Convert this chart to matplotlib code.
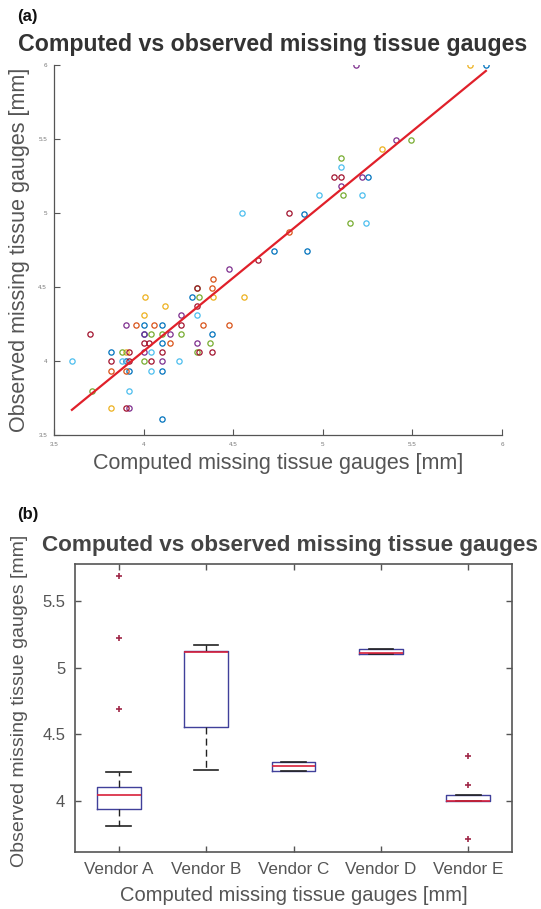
import matplotlib
matplotlib.use("Agg")
import matplotlib.pyplot as plt
import numpy as np

plt.rcParams['font.family'] = ['Liberation Sans', 'DejaVu Sans']

# ---------------- Panel (a) data: scatter by colour group ----------------
blue_x = [4.73, 4.91, 4.895, 5.25, 5.91, 4.27, 4.00, 4.10, 4.38, 4.10, 3.82, 3.90, 3.92, 4.10, 4.10, 4.00]
blue_y = [4.745, 4.745, 4.995, 5.245, 6.00, 4.43, 4.24, 4.24, 4.18, 4.12, 4.06, 4.00, 3.93, 3.93, 3.61, 4.18]
orange_x = [4.81, 4.39, 4.38, 3.96, 4.06, 4.33, 4.475, 4.15, 3.82, 3.90]
orange_y = [4.87, 4.555, 4.49, 4.24, 4.24, 4.24, 4.24, 4.12, 3.93, 3.93]
yellow_x = [5.82, 5.33, 4.39, 4.56, 4.01, 4.12, 4.00, 3.90, 3.82]
yellow_y = [6.00, 5.43, 4.43, 4.43, 4.43, 4.37, 4.31, 4.06, 3.68]
purple_x = [5.185, 5.41, 5.22, 5.10, 4.475, 4.21, 3.90, 4.00, 4.15, 4.30, 4.00, 4.10, 3.92]
purple_y = [6.00, 5.495, 5.245, 5.18, 4.62, 4.31, 4.24, 4.18, 4.18, 4.12, 4.06, 4.00, 3.68]
green_x = [5.49, 5.10, 5.11, 5.15, 4.30, 4.31, 4.04, 4.10, 4.21, 4.37, 3.88, 4.30, 4.00, 3.71]
green_y = [5.495, 5.37, 5.12, 4.93, 4.49, 4.43, 4.18, 4.18, 4.18, 4.12, 4.06, 4.06, 4.00, 3.80]
lightblue_x = [4.55, 5.10, 4.98, 5.22, 5.24, 4.30, 4.04, 3.88, 4.20, 4.04, 3.92, 3.60]
lightblue_y = [5.00, 5.31, 5.12, 5.12, 4.93, 4.31, 4.06, 4.00, 4.00, 3.93, 3.80, 4.00]
darkred_x = [4.81, 5.06, 5.10, 4.64, 4.30, 4.21, 3.70, 4.00, 4.03, 3.92, 4.10, 4.31, 4.38, 3.82, 3.92, 4.04, 3.90, 4.30]
darkred_y = [5.00, 5.245, 5.245, 4.68, 4.37, 4.24, 4.18, 4.12, 4.12, 4.06, 4.06, 4.06, 4.06, 4.00, 4.00, 4.00, 3.68, 4.49]

fit_x = [3.60, 5.91]
fit_y = [3.67, 5.96]

axis_ticks_a = [3.5, 4, 4.5, 5, 5.5, 6]
tick_labels_a = ['3.5', '4', '4.5', '5', '5.5', '6']

# ---------------- Panel (b) data: box statistics per vendor ----------------
vendors = ['Vendor A', 'Vendor B', 'Vendor C', 'Vendor D', 'Vendor E']
box_med = [4.045, 5.120, 4.260, 5.110, 4.000]
box_q1 = [3.938, 4.555, 4.228, 5.105, 4.000]
box_q3 = [4.107, 5.125, 4.295, 5.140, 4.045]
box_whislo = [3.815, 4.232, 4.228, 5.105, 4.000]
box_whishi = [4.215, 5.170, 4.295, 5.140, 4.045]
box_fliers = [[5.69, 5.22, 4.69], [], [], [], [4.34, 4.118, 3.715]]
yticks_b = [4, 4.5, 5, 5.5]
ytick_labels_b = ['4', '4.5', '5', '5.5']

# ---------------- Figure ----------------
W, H = 541, 909
fig = plt.figure(figsize=(W / 100, H / 100), dpi=100)

def fx(px):
    return px / W

def fy(py):
    return 1 - py / H

# ----- Panel (a) -----
ax1 = fig.add_axes([fx(54), fy(435), fx(502) - fx(54), fy(65) - fy(435)])
groups = [
    (blue_x, blue_y, (0.0, 0.447, 0.741)),
    (orange_x, orange_y, (0.85, 0.325, 0.098)),
    (yellow_x, yellow_y, (0.929, 0.694, 0.125)),
    (purple_x, purple_y, (0.494, 0.184, 0.556)),
    (green_x, green_y, (0.466, 0.674, 0.188)),
    (lightblue_x, lightblue_y, (0.301, 0.745, 0.933)),
    (darkred_x, darkred_y, (0.635, 0.078, 0.184)),
]
for gx, gy, c in groups:
    ax1.plot(gx, gy, 'o', ls='none', mfc='none', mec=c, ms=3.8, mew=0.9)
ax1.plot(fit_x, fit_y, '-', color='#e0202a', lw=1.6)
ax1.set_xlim(3.5, 6)
ax1.set_ylim(3.5, 6)
ax1.set_xticks(axis_ticks_a)
ax1.set_xticklabels(tick_labels_a)
ax1.set_yticks(axis_ticks_a)
ax1.set_yticklabels(tick_labels_a)
for s in ['top', 'right']:
    ax1.spines[s].set_visible(False)
for s in ['left', 'bottom']:
    ax1.spines[s].set_color('#555555')
    ax1.spines[s].set_linewidth(0.9)
ax1.tick_params(direction='in', length=4, width=0.8, color='#555555',
                labelsize=4.5, labelcolor='#777777', pad=5)
ax1.set_xlabel('Computed missing tissue gauges [mm]', fontsize=15.5, color='#555555', labelpad=4)
ax1.set_ylabel('Observed missing tissue gauges [mm]', fontsize=15.5, color='#555555', labelpad=6)
fig.text(fx(18), fy(45), 'Computed vs observed missing tissue gauges',
         fontsize=16.7, fontweight='bold', color='#333333', ha='left', va='center')
fig.text(fx(17), fy(17), '(a)', fontsize=12, fontweight='bold', color='#111111',
         ha='left', va='center')

# ----- Panel (b) -----
ax2 = fig.add_axes([fx(75), fy(852), fx(512) - fx(75), fy(564) - fy(852)])
stats = []
for i in range(len(vendors)):
    stats.append(dict(med=box_med[i], q1=box_q1[i], q3=box_q3[i],
                      whislo=box_whislo[i], whishi=box_whishi[i],
                      fliers=box_fliers[i], label=vendors[i]))
ax2.bxp(stats, positions=np.arange(1, len(vendors) + 1), widths=0.5,
        capwidths=0.28, showfliers=True,
        boxprops=dict(color='#40409a', lw=1.0),
        medianprops=dict(color='#d8203a', lw=1.2),
        whiskerprops=dict(color='#222222', lw=1.0, ls=(0, (5, 3))),
        capprops=dict(color='#222222', lw=1.2),
        flierprops=dict(marker='+', mec='#a02848', ms=5, mew=1.2, ls='none'))
ax2.set_xlim(0.5, 5.5)
ax2.set_ylim(3.617, 5.777)
ax2.set_yticks(yticks_b)
ax2.set_yticklabels(ytick_labels_b)
ax2.set_xticks(np.arange(1, len(vendors) + 1))
ax2.set_xticklabels(vendors)
ax2.tick_params(axis='y', labelsize=12)
ax2.tick_params(axis='x', labelsize=12.3)
for s in ax2.spines.values():
    s.set_color('#555555')
    s.set_linewidth(1.2)
ax2.tick_params(direction='in', length=4, width=1.0, color='#555555',
                top=True, right=True, labelcolor='#555555', pad=7)
ax2.set_xlabel('Computed missing tissue gauges [mm]', fontsize=14.5, color='#555555', labelpad=7)
ax2.set_ylabel('Observed missing tissue gauges [mm]', fontsize=14, color='#555555')
ax2.yaxis.set_label_coords(-0.108, 0.525)
fig.text(fx(290), fy(545), 'Computed vs observed missing tissue gauges',
         fontsize=16.2, fontweight='bold', color='#444444', ha='center', va='center')
fig.text(fx(17), fy(515), '(b)', fontsize=12, fontweight='bold', color='#111111',
         ha='left', va='center')

fig.savefig('out.png', dpi=100)
